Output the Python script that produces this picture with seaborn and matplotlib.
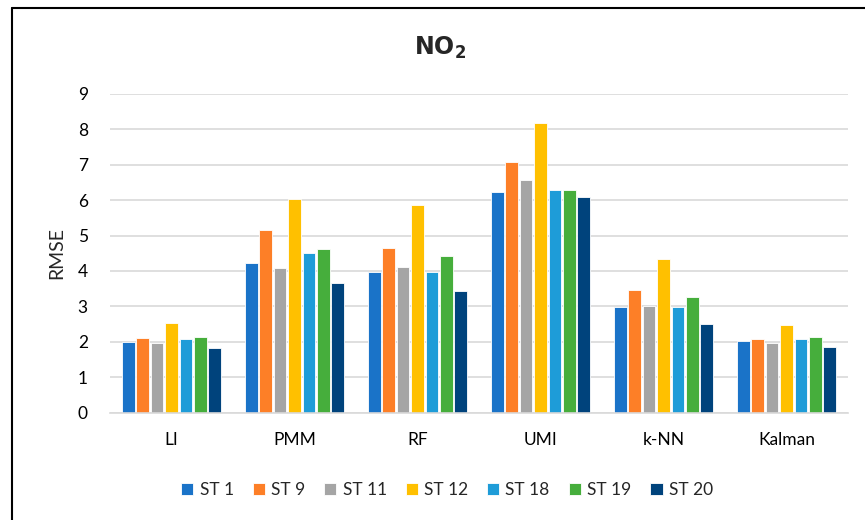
import matplotlib
matplotlib.use("Agg")
import matplotlib.pyplot as plt
import seaborn as sns
import pandas as pd
from matplotlib.lines import Line2D

methods = ["LI", "PMM", "RF", "UMI", "k-NN", "Kalman"]
stations = ["ST 1", "ST 9", "ST 11", "ST 12", "ST 18", "ST 19", "ST 20"]
st1 = [1.99, 4.22, 3.97, 6.22, 2.97, 2.02]
st9 = [2.10, 5.16, 4.65, 7.07, 3.47, 2.08]
st11 = [1.97, 4.08, 4.11, 6.58, 3.01, 1.97]
st12 = [2.52, 6.04, 5.85, 8.19, 4.34, 2.47]
st18 = [2.07, 4.52, 3.98, 6.30, 2.97, 2.07]
st19 = [2.12, 4.62, 4.42, 6.30, 3.25, 2.12]
st20 = [1.82, 3.65, 3.43, 6.09, 2.50, 1.84]
colors = ["#1a73c8", "#fd7f27", "#a5a5a5", "#ffc000", "#1e9cd8", "#46ae3c", "#00437c"]

series = [st1, st9, st11, st12, st18, st19, st20]
rows = []
for st, vals in zip(stations, series):
    for m, v in zip(methods, vals):
        rows.append({"Method": m, "Station": st, "RMSE": v})
df = pd.DataFrame(rows)

sns.set_theme(style="white")
plt.rcParams["font.family"] = ["Lato", "DejaVu Sans"]

fig = plt.figure(figsize=(8.65, 5.2), dpi=100)
ax = fig.add_axes([110 / 865, 1 - 412.5 / 520, (848 - 110) / 865, (412.5 - 94) / 520])

sns.barplot(data=df, x="Method", y="RMSE", hue="Station", order=methods,
            hue_order=stations, palette=colors, width=0.82, gap=0.12,
            edgecolor="white", linewidth=0.6, ax=ax, legend=True, saturation=1)

ax.set_ylim(0, 9)
ax.set_xlim(-0.5, 5.5)
ax.set_yticks(range(0, 10))
ax.yaxis.grid(True, color="#d9d9d9", linewidth=1.2)
ax.set_axisbelow(True)
for s in ["top", "right", "left"]:
    ax.spines[s].set_visible(False)
ax.spines["bottom"].set_color("#d9d9d9")
ax.spines["bottom"].set_linewidth(1.2)
ax.tick_params(axis="both", length=0, labelsize=12.5, colors="#000000")
ax.tick_params(axis="y", pad=16)
ax.tick_params(axis="x", pad=14)
ax.set_xlabel("")
ax.set_ylabel("RMSE", fontsize=14)
ax.yaxis.set_label_coords(-0.06, 0.5)

fig.text(440 / 865, 1 - 48 / 520, r"$\mathbf{NO_2}$", fontsize=17,
         ha="center", va="center")

handles, labels = ax.get_legend_handles_labels()
ax.get_legend().remove()
fig.legend(handles, labels, loc="center", bbox_to_anchor=(447 / 865, 1 - 490 / 520), ncol=7,
           frameon=False, fontsize=12.5, handlelength=0.7, handleheight=0.7,
           columnspacing=1.1, handletextpad=0.35)

fig.add_artist(Line2D([12 / 865, 12 / 865], [0, 1 - 8 / 520], color="black", linewidth=1.5))
fig.add_artist(Line2D([12 / 865, 1], [1 - 8 / 520, 1 - 8 / 520], color="black", linewidth=1.5))

fig.savefig("out.png", dpi=100)
